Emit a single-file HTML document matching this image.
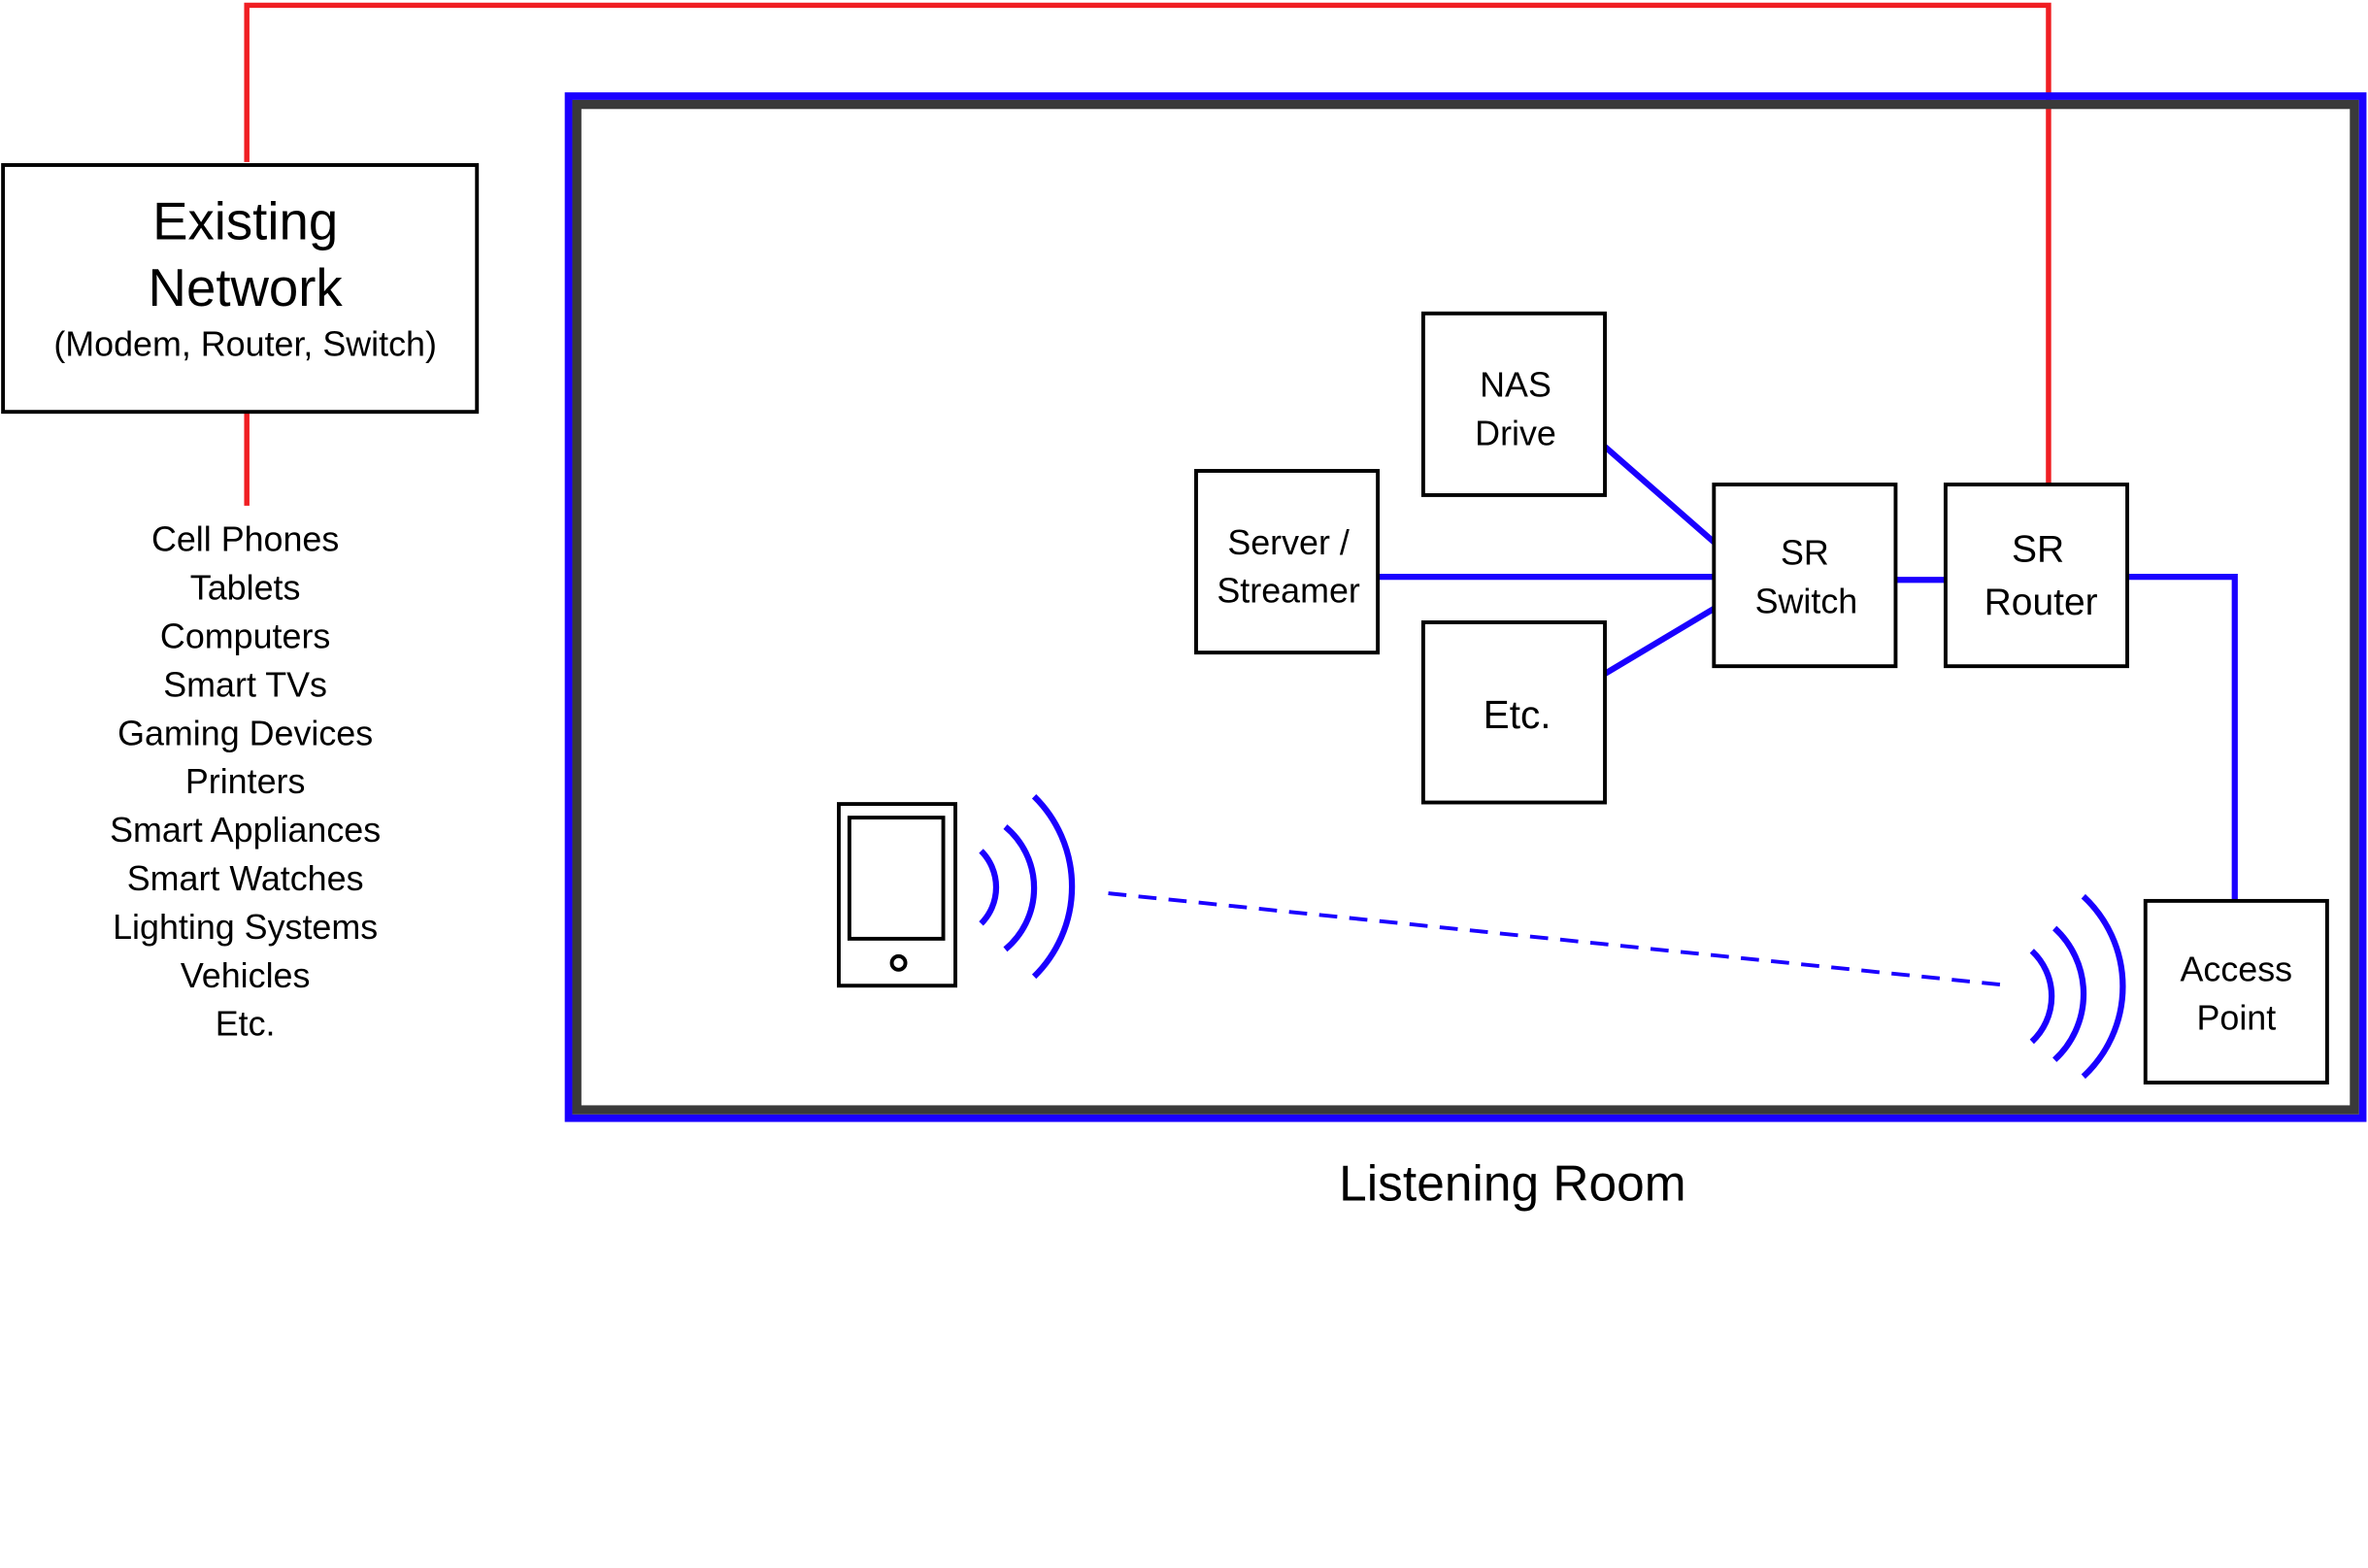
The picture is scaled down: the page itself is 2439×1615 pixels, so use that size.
<!DOCTYPE html>
<html><head><meta charset="utf-8"><style>html,body{margin:0;padding:0;background:#fff}svg{display:block}</style></head>
<body>
<svg width="2439" height="1615" viewBox="0 0 1564 1035.6" preserveAspectRatio="none" xmlns="http://www.w3.org/2000/svg" font-family="'Liberation Sans', sans-serif" fill="none">
<rect x="0" y="0" width="1564" height="1036" fill="#fff"/>
<!-- red lines -->
<polyline points="163,107 163,3.5 1353,3.5 1353,320" stroke="#f01e23" stroke-width="3.5"/>
<line x1="163" y1="272" x2="163" y2="334" stroke="#f01e23" stroke-width="3.5"/>
<!-- frame -->
<rect x="375.5" y="63.5" width="1185" height="675" stroke="#1a00ff" stroke-width="5"/>
<rect x="381" y="69" width="1174" height="664" stroke="#3a3a3a" stroke-width="6"/>
<!-- existing network -->
<rect x="2" y="109" width="313" height="163" stroke="#000" stroke-width="2.5" fill="#fff"/>
<g fill="#000" text-anchor="middle">
<text x="162" y="158" font-size="35">Existing</text>
<text x="162" y="202" font-size="35">Network</text>
<text x="162" y="235" font-size="23">(Modem, Router, Switch)</text>
<g font-size="23">
<text x="162" y="364">Cell Phones</text>
<text x="162" y="396">Tablets</text>
<text x="162" y="428">Computers</text>
<text x="162" y="460">Smart TVs</text>
<text x="162" y="492">Gaming Devices</text>
<text x="162" y="524">Printers</text>
<text x="162" y="556">Smart Appliances</text>
<text x="162" y="588">Smart Watches</text>
<text x="162" y="620">Lighting Systems</text>
<text x="162" y="652">Vehicles</text>
<text x="162" y="684">Etc.</text>
</g>
</g>
<!-- blue links -->
<g stroke="#1a00ff" stroke-width="4">
<line x1="910" y1="381" x2="1132" y2="381"/>
<line x1="1060" y1="295" x2="1132" y2="358"/>
<line x1="1060" y1="445" x2="1132" y2="402"/>
<line x1="1252" y1="383" x2="1285" y2="383"/>
<polyline points="1405,381 1476,381 1476,595"/>
<line x1="732" y1="590" x2="1328" y2="651" stroke-width="2.5" stroke-dasharray="12,8"/>
<path d="M648,562 A34,34 0 0 1 648,610"/>
<path d="M664,546 A52.7,52.7 0 0 1 664,627"/>
<path d="M683,526 A83.3,83.3 0 0 1 683,645"/>
<path d="M1342,628 A41,41 0 0 1 1342,688"/>
<path d="M1357,613 A59,59 0 0 1 1357,700"/>
<path d="M1376,592 A81,81 0 0 1 1376,711"/>
</g>
<!-- boxes -->
<g stroke="#000" stroke-width="2.5" fill="#fff">
<rect x="940" y="207" width="120" height="120"/>
<rect x="790" y="311" width="120" height="120"/>
<rect x="940" y="411" width="120" height="119"/>
<rect x="1132" y="320" width="120" height="120"/>
<rect x="1285" y="320" width="120" height="120"/>
<rect x="1417" y="595" width="120" height="120"/>
<rect x="554" y="531" width="77" height="120"/>
<rect x="561" y="540" width="62" height="80"/>
<circle cx="593.5" cy="636" r="4.5"/>
</g>
<g fill="#000" text-anchor="middle" font-size="23">
<text x="1001" y="262">NAS</text>
<text x="1001" y="294">Drive</text>
<text x="851" y="366">Server /</text>
<text x="851" y="398">Streamer</text>
<text x="1002" y="481" font-size="26">Etc.</text>
<text x="1192" y="373">SR</text>
<text x="1193" y="405">Switch</text>
<text x="1346" y="371" font-size="25">SR</text>
<text x="1348" y="406" font-size="25">Router</text>
<text x="1477" y="648">Access</text>
<text x="1477" y="680">Point</text>
<text x="999" y="793" font-size="33">Listening Room</text>
</g>
</svg>
</body></html>
